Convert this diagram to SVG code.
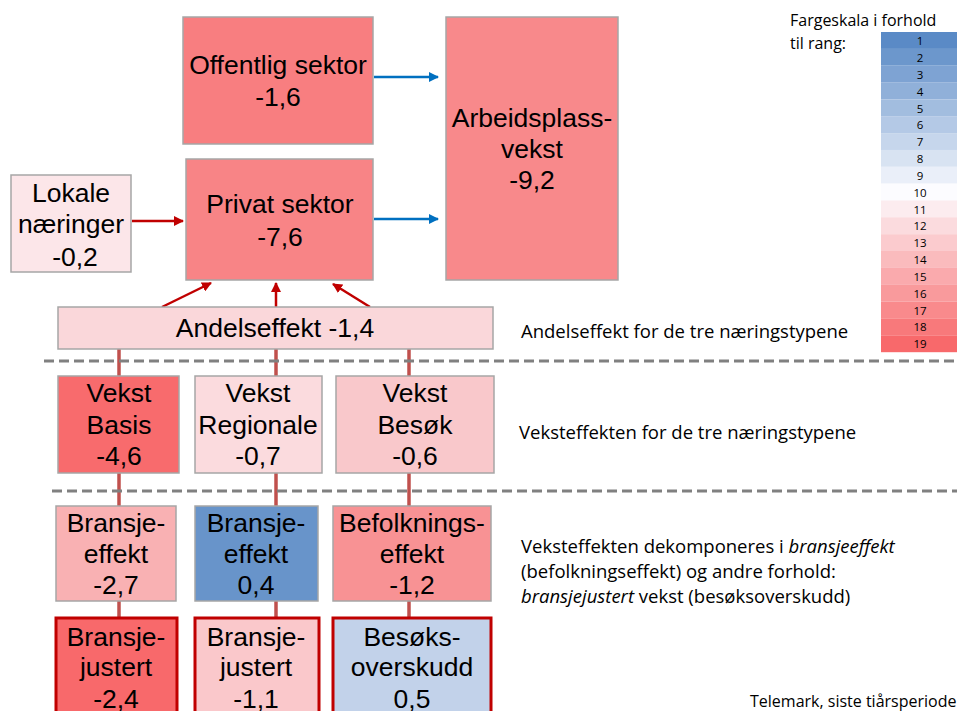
<svg xmlns="http://www.w3.org/2000/svg" width="957" height="711" viewBox="0 0 957 711">
<defs>
<marker id="ar" viewBox="0 0 10 10" refX="9" refY="5" markerWidth="4" markerHeight="4" orient="auto" markerUnits="strokeWidth"><path d="M0,0 L10,5 L0,10 z" fill="#c00000"/></marker>
<marker id="ab" viewBox="0 0 10 10" refX="9" refY="5" markerWidth="4" markerHeight="4" orient="auto" markerUnits="strokeWidth"><path d="M0,0 L10,5 L0,10 z" fill="#0070c0"/></marker>
<style>
.n{stroke:#a6a6a6;stroke-width:1.5}
.rb{stroke:#c00000;stroke-width:3}
.t{font-family:"Liberation Sans",Arial,sans-serif;font-size:26.5px;fill:#000;text-anchor:middle}
.c{font-family:"Open Sans","Noto Sans",sans-serif;font-size:18.5px;fill:#000}
.s{font-family:"Open Sans","Noto Sans",sans-serif;font-size:11.5px;fill:#000;text-anchor:middle}
.v{stroke:#c0504d;stroke-width:3.5;fill:none}
.d{stroke:#808080;stroke-width:3;stroke-dasharray:10,5;fill:none}
.ra{stroke:#c00000;stroke-width:2.5;fill:none;marker-end:url(#ar)}
.ba{stroke:#0070c0;stroke-width:2.5;fill:none;marker-end:url(#ab)}
</style>
</defs>
<rect width="957" height="711" fill="#fff"/>

<g id="connectors">
<line class="v" x1="119" y1="349" x2="119" y2="376"/>
<line class="v" x1="276" y1="349" x2="276" y2="376"/>
<line class="v" x1="409" y1="349" x2="409" y2="376"/>
<line class="v" x1="119" y1="473" x2="119" y2="506"/>
<line class="v" x1="276" y1="473" x2="276" y2="506"/>
<line class="v" x1="409" y1="473" x2="409" y2="506"/>
<line class="v" x1="119" y1="601" x2="119" y2="617"/>
<line class="v" x1="276" y1="601" x2="276" y2="617"/>
<line class="v" x1="409" y1="601" x2="409" y2="617"/>
<line class="d" x1="44" y1="361" x2="957" y2="361"/>
<line class="d" x1="52" y1="491" x2="957" y2="491"/>
<line class="ba" x1="374" y1="77" x2="438" y2="77"/>
<line class="ba" x1="374" y1="219" x2="438" y2="219"/>
<line class="ra" x1="132" y1="221" x2="183" y2="221"/>
<line class="ra" x1="162" y1="307" x2="211" y2="283"/>
<line class="ra" x1="276" y1="307" x2="276" y2="283"/>
<line class="ra" x1="370" y1="307" x2="333" y2="284"/>
</g>

<g id="offentlig"><rect class="n" x="183" y="17" width="190" height="127" fill="#f87e80"/>
<text class="t" x="278" y="74">Offentlig sektor</text><text class="t" x="278" y="106">-1,6</text></g>

<g id="privat"><rect class="n" x="186" y="159" width="187" height="121" fill="#f88486"/>
<text class="t" x="280" y="213">Privat sektor</text><text class="t" x="280" y="246">-7,6</text></g>

<g id="lokale"><rect class="n" x="11" y="175" width="120" height="97" fill="#fce6e9"/>
<text class="t" x="71" y="202">Lokale</text><text class="t" x="71" y="233">næringer</text><text class="t" x="75" y="266">-0,2</text></g>

<g id="arbeidsplass"><rect class="n" x="446" y="17" width="172" height="263" fill="#f8898b"/>
<text class="t" x="532" y="127">Arbeidsplass-</text><text class="t" x="532" y="158">vekst</text><text class="t" x="532" y="189">-9,2</text></g>

<g id="andel"><rect class="n" x="58" y="307" width="435" height="42" fill="#fad7da"/>
<text class="t" x="275" y="337">Andelseffekt -1,4</text></g>

<g id="vekst-basis"><rect class="n" x="58" y="376" width="121" height="97" fill="#f86b6d"/>
<text class="t" x="119" y="402">Vekst</text><text class="t" x="119" y="434">Basis</text><text class="t" x="119" y="465">-4,6</text></g>

<g id="vekst-regionale"><rect class="n" x="195" y="376" width="127" height="97" fill="#fbdbde"/>
<text class="t" x="258" y="402">Vekst</text><text class="t" x="258" y="434">Regionale</text><text class="t" x="258" y="465">-0,7</text></g>

<g id="vekst-besok"><rect class="n" x="336" y="376" width="158" height="97" fill="#f9c8cb"/>
<text class="t" x="415" y="402">Vekst</text><text class="t" x="415" y="434">Besøk</text><text class="t" x="415" y="465">-0,6</text></g>

<g id="bransjeeffekt-basis"><rect class="n" x="56" y="506" width="120" height="95" fill="#f9b1b3"/>
<text class="t" x="116" y="532">Bransje-</text><text class="t" x="116" y="563">effekt</text><text class="t" x="116" y="594">-2,7</text></g>

<g id="bransjeeffekt-regionale"><rect class="n" x="195" y="506" width="123" height="95" fill="#6894ca"/>
<text class="t" x="256" y="532">Bransje-</text><text class="t" x="256" y="563">effekt</text><text class="t" x="256" y="594">0,4</text></g>

<g id="befolkningseffekt"><rect class="n" x="333" y="506" width="158" height="95" fill="#f89294"/>
<text class="t" x="412" y="532">Befolknings-</text><text class="t" x="412" y="563">effekt</text><text class="t" x="412" y="594">-1,2</text></g>

<g id="bransjejustert-basis"><rect class="rb" x="56" y="618" width="121" height="100" fill="#f8696b"/>
<text class="t" x="116" y="646">Bransje-</text><text class="t" x="116" y="676">justert</text><text class="t" x="116" y="708">-2,4</text></g>

<g id="bransjejustert-regionale"><rect class="rb" x="195" y="618" width="124" height="100" fill="#fac8cb"/>
<text class="t" x="256" y="646">Bransje-</text><text class="t" x="256" y="676">justert</text><text class="t" x="256" y="708">-1,1</text></g>

<g id="besoksoverskudd"><rect class="rb" x="333" y="618" width="158" height="100" fill="#c2d2ea"/>
<text class="t" x="412" y="646">Besøks-</text><text class="t" x="412" y="676">overskudd</text><text class="t" x="412" y="708">0,5</text></g>

<g id="labels">
<text class="c" x="521" y="338">Andelseffekt for de tre næringstypene</text>
<text class="c" x="519" y="439">Veksteffekten for de tre næringstypene</text>
<text class="c" x="521" y="553">Veksteffekten dekomponeres i <tspan font-style="italic">bransjeeffekt</tspan></text>
<text class="c" x="521" y="578">(befolkningseffekt) og andre forhold:</text>
<text class="c" x="521" y="603"><tspan font-style="italic">bransjejustert</tspan> vekst (besøksoverskudd)</text>
<text class="c" x="750" y="707" style="font-size:16px">Telemark, siste tiårsperiode</text>
</g>

<g id="scale">
<text class="c" x="790" y="26" style="font-size:16px">Fargeskala i forhold</text>
<text class="c" x="790" y="49" style="font-size:16px">til rang:</text>
<rect x="881" y="32.0" width="76" height="16.9" fill="#5a8ac6"/>
<rect x="881" y="48.8" width="76" height="16.9" fill="#6c97cc"/>
<rect x="881" y="65.7" width="76" height="16.9" fill="#7ea3d3"/>
<rect x="881" y="82.5" width="76" height="16.9" fill="#90b0d9"/>
<rect x="881" y="99.4" width="76" height="16.9" fill="#a2bddf"/>
<rect x="881" y="116.2" width="76" height="16.9" fill="#b4c9e6"/>
<rect x="881" y="133.1" width="76" height="16.9" fill="#c6d6ec"/>
<rect x="881" y="149.9" width="76" height="16.9" fill="#d8e3f2"/>
<rect x="881" y="166.8" width="76" height="16.9" fill="#eaeff9"/>
<rect x="881" y="183.6" width="76" height="16.9" fill="#fcfcff"/>
<rect x="881" y="200.5" width="76" height="16.9" fill="#fcecef"/>
<rect x="881" y="217.3" width="76" height="16.9" fill="#fbdbde"/>
<rect x="881" y="234.2" width="76" height="16.9" fill="#fbcbce"/>
<rect x="881" y="251.0" width="76" height="16.9" fill="#fabbbd"/>
<rect x="881" y="267.9" width="76" height="16.9" fill="#faaaad"/>
<rect x="881" y="284.7" width="76" height="16.9" fill="#f99a9c"/>
<rect x="881" y="301.6" width="76" height="16.9" fill="#f98a8c"/>
<rect x="881" y="318.4" width="76" height="16.9" fill="#f8797b"/>
<rect x="881" y="335.3" width="76" height="16.9" fill="#f8696b"/>
<text class="s" x="920" y="45">1</text>
<text class="s" x="920" y="62">2</text>
<text class="s" x="920" y="79">3</text>
<text class="s" x="920" y="96">4</text>
<text class="s" x="920" y="113">5</text>
<text class="s" x="920" y="129">6</text>
<text class="s" x="920" y="146">7</text>
<text class="s" x="920" y="163">8</text>
<text class="s" x="920" y="180">9</text>
<text class="s" x="920" y="197">10</text>
<text class="s" x="920" y="214">11</text>
<text class="s" x="920" y="230">12</text>
<text class="s" x="920" y="247">13</text>
<text class="s" x="920" y="264">14</text>
<text class="s" x="920" y="281">15</text>
<text class="s" x="920" y="298">16</text>
<text class="s" x="920" y="315">17</text>
<text class="s" x="920" y="331">18</text>
<text class="s" x="920" y="348">19</text>
</g>
</svg>
